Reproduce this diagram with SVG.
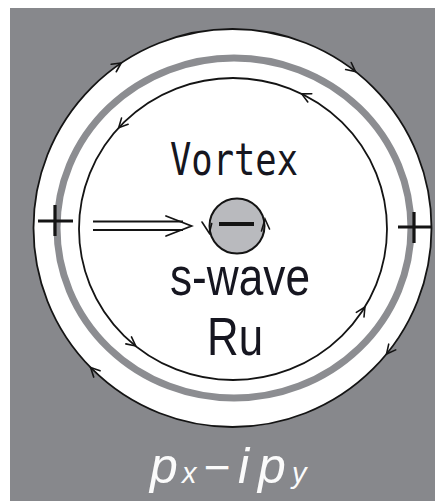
<svg xmlns="http://www.w3.org/2000/svg" width="435" height="504" viewBox="0 0 435 504">
<style>
.ln{fill:none;stroke:#141414;stroke-width:1.8}
.ah{fill:none;stroke:#141414;stroke-width:1.6;stroke-linejoin:miter;stroke-linecap:round}
.sym{stroke:#141414;stroke-width:3.2;stroke-linecap:butt}
.lbl{font-family:"Liberation Sans",Arial,sans-serif;fill:#161620}
.mono{font-family:"DejaVu Sans Mono","Liberation Mono",monospace;fill:#161620}
.wt{font-family:"Liberation Sans",Arial,sans-serif;font-style:italic;fill:#fbfbfb}
</style>
<defs>
<path id="chev" d="M-9,-4.5 L0,0 L-9,4.5" class="ah"/>
</defs>
<rect x="0" y="0" width="435" height="504" fill="#ffffff"/>
<rect x="10" y="8" width="425" height="493" fill="#87888c"/>

<g id="outer-ring">
<circle cx="232.5" cy="228" r="199" style="fill:#ffffff;stroke:#141414;stroke-width:1.8"/>
</g>
<g id="gray-ring">
<ellipse cx="234" cy="228" rx="177" ry="170" fill="none" stroke="#8c8d91" stroke-width="7"/>
</g>
<g id="inner-ring">
<ellipse cx="233" cy="229" rx="154" ry="151" class="ln"/>
</g>

<g id="connectors">
<use href="#chev" transform="translate(121.2,63) rotate(-34)"/>
<use href="#chev" transform="translate(355.5,71.6) rotate(38.2)"/>
<use href="#chev" transform="translate(386.5,354) rotate(129.3)"/>
<use href="#chev" transform="translate(90.6,367.5) rotate(225.5)"/>
<use href="#chev" transform="translate(301.7,93.9) rotate(206.1)"/>
<use href="#chev" transform="translate(118.7,127.8) rotate(132.7)"/>
<use href="#chev" transform="translate(135.7,346) rotate(38.6)"/>
<use href="#chev" transform="translate(364.9,307) rotate(-58.4)"/>
<g id="double-arrow">
<path d="M93,221.5 H183 M93,230 H183" class="ln"/>
<path d="M166,216 L191.5,226 L166,236" class="ah" style="stroke-width:1.8"/>
</g>
</g>

<g id="plus-left">
<path d="M38,221 H73 M55,205 V236" class="sym"/>
</g>
<g id="plus-right">
<path d="M398,227 H432 M414,212 V243" class="sym"/>
</g>

<g id="vortex-core">
<circle cx="237" cy="226" r="27.5" fill="#b9babe" stroke="#141414" stroke-width="2"/>
<path d="M219,224 H254" stroke="#141414" stroke-width="3.8"/>
<path d="M202,222 L209.3,233.3 L211.7,223.5" class="ah"/>
<path d="M261.5,231 L265,219 L269.5,229" class="ah"/>
</g>

<g id="label-vortex">
<text x="170" y="175" class="mono" font-size="44" textLength="128" lengthAdjust="spacingAndGlyphs">Vortex</text>
</g>
<g id="label-swave">
<text x="170" y="294.5" class="lbl" font-size="54" textLength="140" lengthAdjust="spacingAndGlyphs">s-wave</text>
</g>
<g id="label-ru">
<text x="207" y="355" class="lbl" font-size="54" textLength="56" lengthAdjust="spacingAndGlyphs">Ru</text>
</g>
<g id="label-order">
<text y="483" class="wt" font-size="50"><tspan x="150">p</tspan><tspan x="182" font-size="29">x</tspan><tspan x="203" font-size="46">−</tspan><tspan x="238">i</tspan><tspan x="258">p</tspan><tspan x="292" font-size="29">y</tspan></text>
</g>
</svg>
